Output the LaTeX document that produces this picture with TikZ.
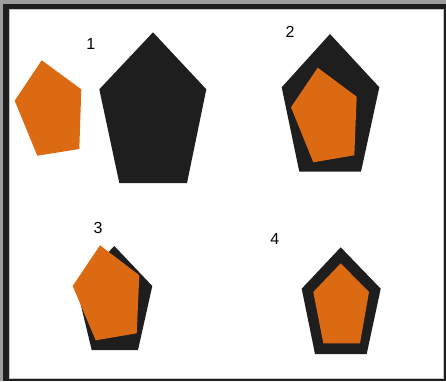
\documentclass[tikz,border=0pt]{standalone}
\usepackage{fontspec}
\setmainfont{Liberation Sans}
\usepackage{tikz}
\usetikzlibrary{calc}
\usepackage{xcolor}

\definecolor{flame}{RGB}{220,106,18}
\definecolor{coal}{RGB}{30,30,30}
\definecolor{frame}{RGB}{158,158,158}

\begin{document}
\begin{tikzpicture}[x=1pt,y=-1pt,
	tag/.style={inner sep=0pt,font=\fontsize{16}{18}\selectfont},
	outer/.style={fill=coal},
	inner/.style={fill=flame}]
	
	%----------------------------------------
	% Frame
	%----------------------------------------
	\fill[frame] (0,0) rectangle (446,381);
	\fill[coal] (3,4) rectangle (446,381);
	\filldraw[white,draw=frame!60,line width=0.8pt] (9,9) rectangle (443,378);
	\useasboundingbox (0,0) rectangle (446,381);
	
	%----------------------------------------
	% 1: loose piece next to the big one
	%----------------------------------------
	\fill[outer] (153,32.3) -- (206.3,89.3) -- (187,183) -- (119.3,183) -- (99.3,89.3) -- cycle;
	\fill[inner] (41.7,60.3) -- (81.3,89.3) -- (79.3,149) -- (37.3,155.7) -- (14.7,100.7) -- cycle;
	\node[tag] (L1) at (90.7,43.5) {1};
	
	%----------------------------------------
	% 2: turned and set inside
	%----------------------------------------
	\fill[outer] (330,34) -- (379.3,87.3) -- (361,171.7) -- (299.3,171.7) -- (281.7,87.3) -- cycle;
	\fill[inner] (317.7,67.7) -- (356.7,96.7) -- (354.3,155.3) -- (313.3,162.3) -- (291,107.3) -- cycle;
	\node[tag] (L2) at (290,31.8) {2};
	
	%----------------------------------------
	% 3: nearly the same size, shifted
	%----------------------------------------
	\fill[outer] (114.3,246) -- (152.3,286) -- (138,350) -- (91.7,350) -- (76.3,286) -- cycle;
	\fill[inner] (100,245.3) -- (139.3,275.3) -- (136.7,333.3) -- (95.7,340.3) -- (72.7,286) -- cycle;
	\node[tag] (L3) at (98,227.5) {3};
	
	%----------------------------------------
	% 4: centred with an even rim
	%----------------------------------------
	\fill[outer] (340.7,247.3) -- (380.7,288.7) -- (366.7,354) -- (315,354) -- (301.7,288.7) -- cycle;
	\fill[inner] (340.7,263.3) -- (369,292) -- (360,343.3) -- (323.3,343.3) -- (313.3,292) -- cycle;
	\node[tag] (L4) at (274.7,239.2) {4};
	
\end{tikzpicture}
\end{document}
